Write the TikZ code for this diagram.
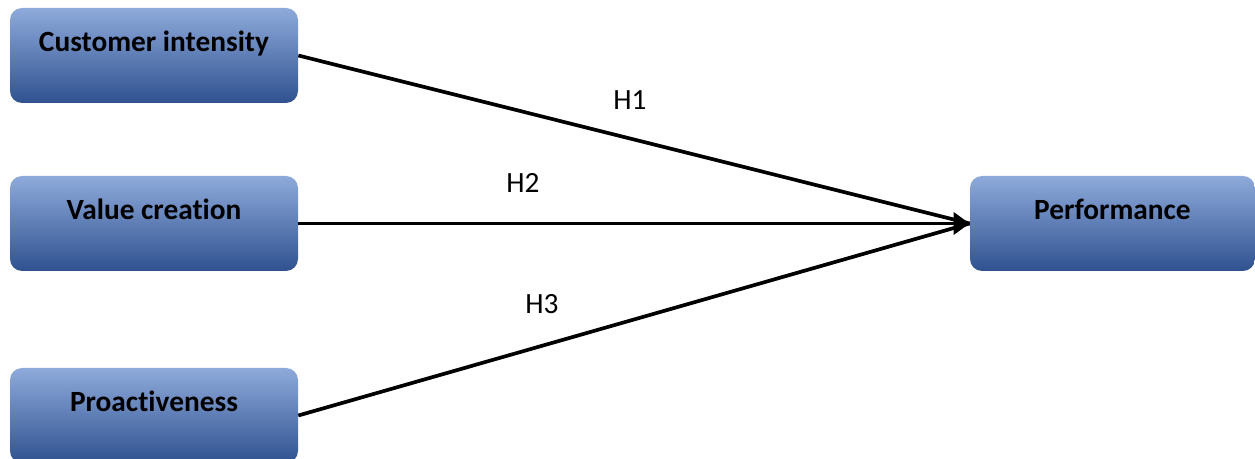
\documentclass[tikz,border=0pt]{standalone}
\usepackage{fontspec}
\setmainfont{Carlito}[Ligatures=NoCommon]
\usetikzlibrary{arrows.meta}

\definecolor{boxtop}{HTML}{8EAADB}
\definecolor{boxmid}{HTML}{4472C4}
\definecolor{boxbot}{HTML}{2F528F}

\begin{document}
\begin{tikzpicture}[
    construct/.style={
        rectangle,
        rounded corners=0.24cm,
        top color=boxtop,
        middle color=boxmid,
        bottom color=boxbot,
        minimum width=5.76cm,
        inner ysep=0pt,
        text height=0.87cm,
        text depth=1.03cm,
        font=\fontsize{16.7}{19}\selectfont\bfseries
    },
    path/.style={
        line width=2.1pt
    },
    hyp/.style={
        font=\fontsize{16.7}{19}\selectfont
    }
]

\useasboundingbox (0,0) rectangle (25.1,9.18);

\node[construct] (intensity) at (3.08,8.07) {Customer intensity};
\node[construct] (creation) at (3.08,4.71) {Value creation};
\node[construct] (proactive) at (3.08,0.87) {Proactiveness};
\node[construct, minimum width=5.7cm] (performance) at (22.25,4.71) {Performance};

\draw[path] (intensity.east) -- (performance.west);
\draw[path, -{Triangle[length=0.32cm, width=0.44cm]}] (creation.east) -- (performance.west);
\draw[path] (proactive.east) -- (performance.west);

\node[hyp] (h1) at (12.6,7.18) {H1};
\node[hyp] (h2) at (10.46,5.52) {H2};
\node[hyp] (h3) at (10.84,3.1) {H3};

\end{tikzpicture}
\end{document}
